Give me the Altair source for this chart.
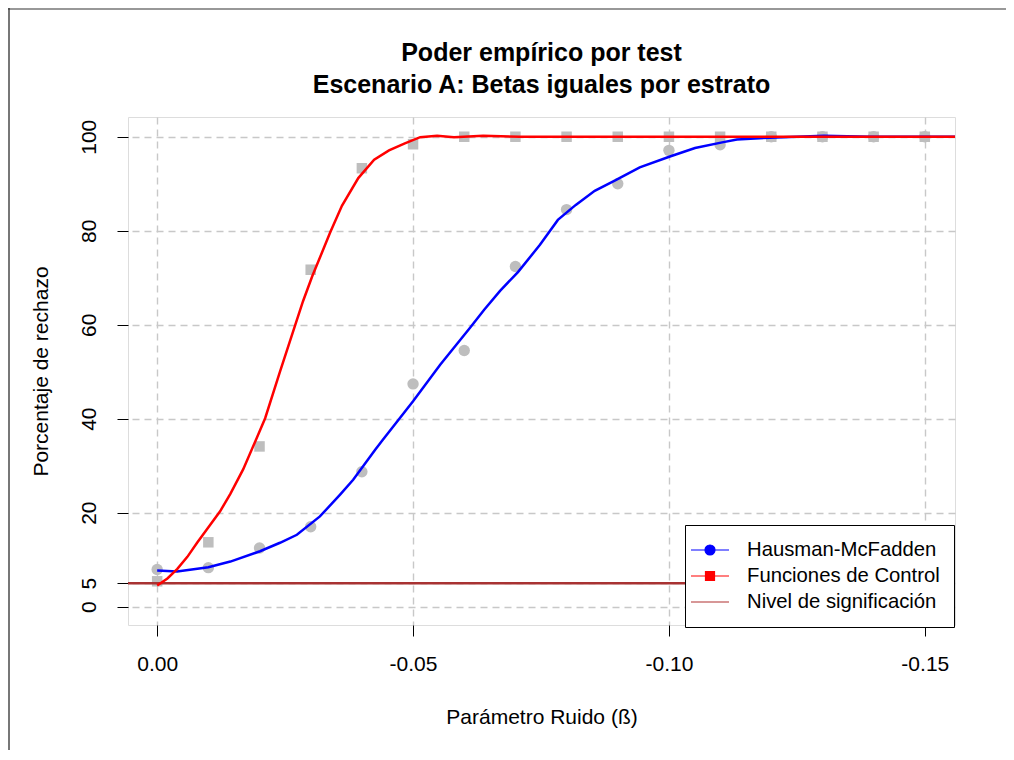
import altair as alt
import pandas as pd

# ---------------- data ----------------
x_ticks = [0.0, -0.05, -0.10, -0.15]
y_ticks = [0, 5, 20, 40, 60, 80, 100]

beta = [0.0, -0.01, -0.02, -0.03, -0.04, -0.05, -0.06, -0.07,
        -0.08, -0.09, -0.10, -0.11, -0.12, -0.13, -0.14, -0.15]
hm_points = [7.9, 8.3, 12.5, 17.0, 28.7, 47.4, 54.5, 72.4,
             84.5, 90.0, 97.1, 98.3, 100.0, 100.0, 100.0, 100.0]
fc_points = [5.4, 13.7, 34.1, 71.7, 93.3, 98.4, 100.0, 100.0,
             100.0, 100.0, 100.0, 100.0, 100.0, 100.0, 100.0, 100.0]

hm_curve_x = [0.0, -0.0039, -0.0100, -0.0143, -0.0201, -0.0240, -0.0273, -0.0318,
              -0.0357, -0.0383, -0.0426, -0.0441, -0.0500, -0.0553, -0.0611, -0.0639,
              -0.0670, -0.0705, -0.0748, -0.0783, -0.0818, -0.0855, -0.0895, -0.0943,
              -0.1002, -0.1051, -0.1104, -0.1133, -0.1197, -0.1303, -0.1393, -0.1560]
hm_curve_y = [7.7, 7.5, 8.4, 9.6, 11.8, 13.6, 15.3, 19.2,
              23.8, 27.0, 33.4, 35.5, 43.7, 51.5, 59.3, 63.2,
              67.2, 71.2, 77.0, 82.3, 85.5, 88.5, 90.7, 93.5,
              95.8, 97.6, 98.8, 99.4, 99.8, 100.2, 100.0, 100.0]

fc_curve_x = [0.0, -0.0020, -0.0039, -0.0059, -0.0078, -0.0098, -0.0123, -0.0143,
              -0.0168, -0.0191, -0.0211, -0.0240, -0.0270, -0.0285, -0.0303, -0.0338,
              -0.0361, -0.0393, -0.0424, -0.0453, -0.0484, -0.0514, -0.0547, -0.0580,
              -0.0637, -0.0709, -0.1560]
fc_curve_y = [4.5, 6.0, 8.0, 10.6, 13.6, 16.6, 20.3, 24.0,
              29.2, 35.0, 40.1, 50.0, 60.0, 65.0, 70.3, 79.6,
              85.3, 91.2, 95.1, 97.1, 98.6, 99.9, 100.2, 99.9,
              100.2, 100.0, 100.0]

nivel = 5

series = ["Hausman-McFadden", "Funciones de Control", "Nivel de significación"]
series_colors = ["#0000FF", "#FF0000", "#B03030"]
series_symbols = [
    "M-1.9,0H1.9M-0.5,0A0.5,0.5,0,1,0,0.5,0A0.5,0.5,0,1,0,-0.5,0Z",
    "M-1.9,0H1.9M-0.45,-0.45H0.45V0.45H-0.45Z",
    "M-1.9,0H1.9",
]

# ---------------- tables ----------------
df_hm_pts = pd.DataFrame({"beta": beta, "pct": hm_points})
df_fc_pts = pd.DataFrame({"beta": beta, "pct": fc_points})
df_hm_line = pd.DataFrame({"beta": hm_curve_x, "pct": hm_curve_y})
df_fc_line = pd.DataFrame({"beta": fc_curve_x, "pct": fc_curve_y})
df_nivel = pd.DataFrame({"pct": [nivel]})
df_leg = pd.DataFrame({"beta": [0.5] * 3, "pct": [50] * 3, "serie": series})

FONT = "Liberation Sans"

x_enc = alt.X(
    "beta:Q",
    title="Parámetro Ruido (ß)",
    scale=alt.Scale(domain=[-0.1559, 0.0057], reverse=True, nice=False, zero=False),
    axis=alt.Axis(
        values=x_ticks,
        labelExpr="replace(format(datum.value, '.2f'), '\u2212', '-')",
        domain=False, grid=True, gridColor="#C8C8C8", gridDash=[7, 5], gridWidth=1.4,
        tickSize=11, tickColor="black", tickWidth=1,
        labelFontSize=21, labelFont=FONT, labelColor="black",
        labelBaseline="alphabetic", labelPadding=34.5, labelOverlap=False, labelFlush=False,
        titleFontSize=21, titleFont=FONT, titleFontWeight="normal", titleColor="black",
        titleBaseline="alphabetic", titleY=98.5, titleX=413.5, titleAlign="center",
    ),
)
y_enc = alt.Y(
    "pct:Q",
    title="Porcentaje de rechazo",
    scale=alt.Scale(domain=[-3.9, 104.2], nice=False, zero=False),
    axis=alt.Axis(
        values=y_ticks,
        domain=False, grid=True, gridColor="#C8C8C8", gridDash=[7, 5], gridWidth=1.4,
        tickSize=11, tickColor="black", tickWidth=1,
        labelFontSize=21, labelFont=FONT, labelColor="black",
        labelAngle=270, labelAlign="center", labelBaseline="alphabetic",
        labelPadding=21.5, labelOverlap=False, labelFlush=False,
        titleFontSize=21, titleFont=FONT, titleFontWeight="normal", titleColor="black",
        titleAngle=270, titleAlign="center", titleBaseline="alphabetic",
        titleX=-80.5, titleY=254,
    ),
)

hm_pts = alt.Chart(df_hm_pts).mark_point(
    shape="circle", filled=True, color="#BEBEBE", opacity=1, size=130
).encode(x=x_enc, y=y_enc)

fc_pts = alt.Chart(df_fc_pts).mark_point(
    shape="square", filled=True, color="#BEBEBE", opacity=1, size=110
).encode(x=x_enc, y=y_enc)

nivel_rule = alt.Chart(df_nivel).mark_rule(color="#A83232", strokeWidth=2.5).encode(
    y=alt.Y("pct:Q")
)

hm_line = alt.Chart(df_hm_line).mark_line(color="#0000FF", strokeWidth=2.5, clip=True).encode(
    x=x_enc, y=y_enc
)
fc_line = alt.Chart(df_fc_line).mark_line(color="#FF0000", strokeWidth=2.5, clip=True).encode(
    x=x_enc, y=y_enc
)

leg = alt.Legend(
    title=None, orient="none", legendX=557, legendY=408,
    padding=14, fillColor="white", strokeColor="black",
    labelFontSize=20.3, labelFont=FONT, labelColor="black", labelOffset=26, labelLimit=0,
    symbolSize=400, symbolStrokeWidth=1.2, symbolOpacity=1, rowPadding=4,
)
legend_layer = alt.Chart(df_leg).mark_point(filled=True, clip=True, size=10).encode(
    x=x_enc,
    y=y_enc,
    fill=alt.Fill("serie:N", scale=alt.Scale(domain=series, range=series_colors), legend=leg),
    stroke=alt.Stroke("serie:N", scale=alt.Scale(domain=series, range=series_colors), legend=leg),
    shape=alt.Shape("serie:N", scale=alt.Scale(domain=series, range=series_symbols), legend=leg),
)

frame_df = pd.DataFrame({"a": [0]})
frame_left = alt.Chart(frame_df).mark_rule(color="#777777", strokeWidth=2).encode(
    x=alt.value(-119), y=alt.value(-109), y2=alt.value(633)
)
frame_top = alt.Chart(frame_df).mark_rule(color="#333333", strokeWidth=1.2).encode(
    x=alt.value(-120), x2=alt.value(878), y=alt.value(-108)
)

chart = alt.layer(
    frame_left, frame_top, hm_pts, fc_pts, nivel_rule, hm_line, fc_line, legend_layer
).properties(
    width=827,
    height=508,
    title=alt.TitleParams(
        text=["Poder empírico por test", "Escenario A: Betas iguales por estrato"],
        font=FONT, fontSize=25, fontWeight="bold", color="black",
        anchor="middle", frame="group", offset=22, dy=138, baseline="bottom",
        lineHeight=32,
    ),
    autosize=alt.AutoSizeParams(type="none"),
    padding={"left": 120, "top": 109, "right": 51, "bottom": 125},
).configure_view(
    stroke="black", strokeWidth=1
).configure(background="white")

chart.save("out.html", embed_options={"renderer": "svg", "actions": False})
